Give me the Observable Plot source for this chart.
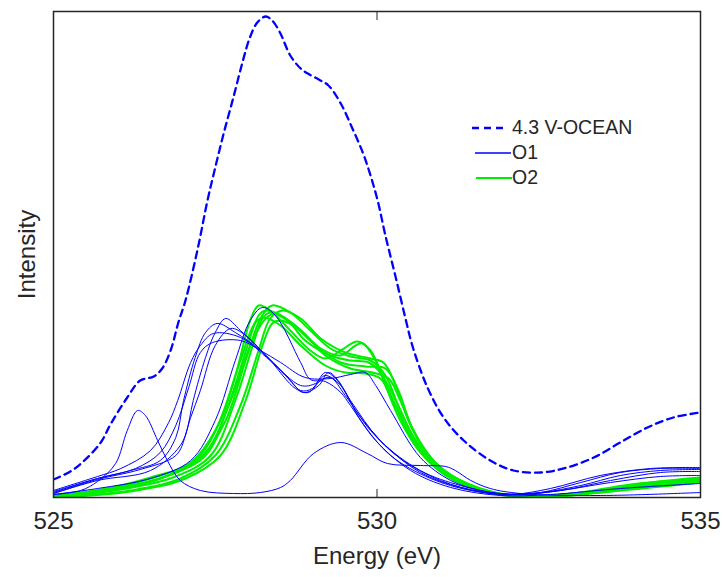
<!DOCTYPE html>
<html>
<head>
<meta charset="utf-8">
<script src="https://cdn.jsdelivr.net/npm/d3@7"></script>
<script src="https://cdn.jsdelivr.net/npm/@observablehq/plot@0.6"></script>
<style>
  html, body { margin: 0; padding: 0; background: #fff; }
  #wrap { position: relative; width: 724px; height: 577px; font-family: "Liberation Sans", Arial, Helvetica, sans-serif; color: #262626; }
  #legend { position: absolute; left: 470px; top: 115px; font-size: 19.5px; }
  #legend .row { display: flex; align-items: center; height: 25px; }
  #legend svg { display: block; }
</style>
</head>
<body>
<div id="wrap"></div>
<script>
// ---- data (energy in eV, intensity in arbitrary units) ----
const xTicks = [525, 530, 535];
const seriesNames = ["4.3 V-OCEAN", "O1", "O2"];

const oceanCurve = [[525.00,18],[525.26,26],[525.46,36],[525.73,55],[525.88,73],[526.14,100],[526.34,117],[526.55,121],[526.68,129],[526.81,147],[526.93,175],[527.04,197],[527.23,249],[527.38,297],[527.50,330],[527.63,364],[527.78,400],[527.92,435],[528.03,459],[528.15,475],[528.28,481],[528.38,477],[528.50,465],[528.66,442],[528.82,429],[528.93,424],[529.10,418],[529.25,412],[529.44,394],[529.62,369],[529.78,345],[529.90,322],[530.01,297],[530.13,262],[530.29,220],[530.44,179],[530.56,149],[530.78,110],[531.03,80],[531.34,57],[531.75,37],[532.11,27],[532.53,25],[532.94,30],[533.35,40],[533.76,55],[534.18,70],[534.58,80],[535.00,85]];

const o1Curve1 = [[525.00,3],[525.42,7],[525.68,16],[525.96,34],[526.14,67],[526.30,87],[526.42,82],[526.61,57],[526.76,37],[526.96,17],[527.27,7],[527.78,4],[528.20,5],[528.51,10],[528.66,17],[529.02,44],[529.44,55],[529.85,44],[530.16,34],[530.67,32],[531.06,31],[531.21,27],[531.45,17],[531.75,9],[532.22,4],[533.45,2],[535.00,5]];
const o1Curve2 = [[525.00,5],[525.68,19],[526.19,27],[526.65,37],[526.89,60],[527.01,97],[527.19,140],[527.35,165],[527.53,174],[527.81,165],[528.20,147],[528.59,122],[528.82,107],[529.00,109],[529.20,125],[529.36,119],[529.59,97],[530.05,57],[530.67,27],[531.29,12],[531.91,4],[532.53,5],[533.15,12],[533.76,22],[534.38,27],[535.00,28]];
const o1Curve3 = [[525.00,4],[525.68,18],[526.34,28],[526.89,42],[527.04,62],[527.16,97],[527.35,140],[527.50,165],[527.66,179],[527.89,167],[528.28,142],[528.66,117],[528.86,105],[529.10,112],[529.25,125],[529.40,117],[529.67,87],[530.13,52],[530.67,25],[531.29,10],[531.91,3],[532.53,5],[533.15,15],[533.76,25],[534.38,29],[535.00,29]];
const o1Curve4 = [[525.00,7],[525.68,21],[526.04,29],[526.50,47],[526.78,75],[526.92,97],[527.12,135],[527.27,152],[527.47,164],[527.89,160],[528.35,137],[528.82,112],[529.05,114],[529.20,122],[529.44,112],[529.75,77],[530.21,42],[530.83,19],[531.45,7],[532.06,3],[532.68,9],[533.45,22],[534.23,29],[535.00,30]];
const o1Curve5 = [[525.00,6],[525.68,19],[526.27,29],[526.65,45],[526.89,72],[527.09,110],[527.27,145],[527.46,155],[527.89,157],[528.20,147],[528.51,135],[528.89,120],[529.28,119],[529.59,123],[529.82,125],[529.98,112],[530.21,87],[530.67,40],[531.14,17],[531.60,7],[532.06,3],[532.84,7],[533.61,17],[534.38,25],[535.00,26]];
const o1Curve6 = [[525.00,4],[525.68,17],[526.50,27],[526.96,52],[527.12,80],[527.27,107],[527.50,152],[527.74,169],[527.97,162],[528.35,137],[528.74,109],[528.94,105],[529.13,117],[529.28,120],[529.51,102],[529.90,67],[530.36,39],[530.98,17],[531.60,6],[532.22,3],[532.84,7],[533.61,15],[534.38,21],[535.00,22]];
const o1Curve7 = [[525.00,3],[525.68,9],[526.50,19],[527.12,37],[527.50,77],[527.81,137],[528.04,177],[528.23,190],[528.43,182],[528.82,135],[528.97,118],[529.20,116],[529.44,105],[529.59,92],[529.98,57],[530.52,27],[531.14,10],[531.91,2],[532.68,3],[533.76,9],[535.00,14]];

const o2Curve1 = [[525.00,1],[525.73,7],[526.50,19],[527.12,35],[527.50,67],[527.81,122],[528.04,177],[528.17,192],[528.35,187],[528.66,167],[528.97,147],[529.20,139],[529.44,147],[529.70,156],[529.90,147],[530.13,112],[530.36,77],[530.67,45],[531.14,19],[531.75,5],[532.37,1],[533.15,5],[533.92,13],[535.00,19]];
const o2Curve2 = [[525.00,0],[525.88,7],[526.65,19],[527.27,39],[527.66,77],[527.97,137],[528.20,179],[528.38,192],[528.66,185],[528.97,167],[529.28,149],[529.59,141],[529.90,137],[530.13,122],[530.36,87],[530.67,49],[531.14,21],[531.75,5],[532.37,0],[533.30,5],[534.07,13],[535.00,18]];
const o2Curve3 = [[525.00,1],[526.04,9],[526.81,23],[527.35,45],[527.74,97],[528.04,152],[528.28,179],[528.43,184],[528.74,172],[529.13,149],[529.44,142],[529.67,152],[529.78,154],[529.98,137],[530.21,102],[530.52,62],[530.98,27],[531.60,7],[532.37,1],[533.30,6],[534.23,15],[535.00,20]];
const o2Curve4 = [[525.00,2],[525.73,8],[526.50,20],[527.19,37],[527.58,77],[527.89,137],[528.12,175],[528.25,180],[528.51,172],[528.82,152],[529.20,132],[529.51,125],[529.82,124],[530.05,119],[530.29,92],[530.60,52],[531.06,22],[531.75,5],[532.37,1],[533.45,7],[535.00,17]];
const o2Curve5 = [[525.00,0],[526.19,7],[526.96,19],[527.50,42],[527.89,92],[528.17,147],[528.35,179],[528.54,187],[528.82,179],[529.13,159],[529.51,145],[529.90,139],[530.10,135],[530.29,112],[530.52,72],[530.90,32],[531.45,11],[532.22,1],[533.30,4],[534.23,11],[535.00,16]];
const o2Curve6 = [[525.00,1],[526.04,8],[526.89,21],[527.43,42],[527.81,97],[528.08,152],[528.23,179],[528.35,185],[528.66,175],[529.05,152],[529.44,135],[529.82,131],[530.13,129],[530.33,107],[530.55,69],[530.90,35],[531.45,12],[532.22,1],[533.30,5],[534.23,13],[535.00,19]];
const o2Curve7 = [[525.00,1],[525.88,8],[526.73,21],[527.35,42],[527.70,92],[528.00,152],[528.17,182],[528.28,187],[528.59,179],[528.89,157],[529.28,142],[529.59,137],[529.87,135],[530.05,125],[530.29,97],[530.60,57],[531.06,25],[531.68,7],[532.37,1],[533.45,6],[535.00,18]];
const o2Curve8 = [[525.00,0],[526.19,6],[527.04,19],[527.58,42],[527.97,97],[528.23,152],[528.38,174],[528.51,177],[528.82,167],[529.20,142],[529.59,129],[529.93,125],[530.18,119],[530.36,97],[530.60,62],[530.98,30],[531.60,9],[532.37,0],[533.45,5],[535.00,15]];

// ---- build tables ----
const toRows = (curve, series, id) => curve.map(([energy, intensity]) => ({energy, intensity, series, id}));
const oceanRows = toRows(oceanCurve, seriesNames[0], "ocean");
const o1Rows = [o1Curve1, o1Curve2, o1Curve3, o1Curve4, o1Curve5, o1Curve6, o1Curve7].flatMap((c, i) => toRows(c, seriesNames[1], "o1-" + i));
const o2Rows = [o2Curve1, o2Curve2, o2Curve3, o2Curve4, o2Curve5, o2Curve6, o2Curve7, o2Curve8].flatMap((c, i) => toRows(c, seriesNames[2], "o2-" + i));

const BLUE = "#0000ff", GREEN = "#00ee00", INK = "#262626";

const chart = Plot.plot({
  width: 724,
  height: 577,
  marginLeft: 53,
  marginRight: 24,
  marginTop: 11,
  marginBottom: 80,
  style: {fontFamily: '"Liberation Sans", Arial, Helvetica, sans-serif', background: "#fff", color: INK},
  x: {domain: [525, 535]},
  y: {domain: [0, 486]},
  marks: [
    Plot.line(o2Rows, {x: "energy", y: "intensity", z: "id", stroke: GREEN, strokeWidth: 2, curve: "catmull-rom", clip: true}),
    Plot.line(o1Rows, {x: "energy", y: "intensity", z: "id", stroke: BLUE, strokeWidth: 1, curve: "catmull-rom", clip: true}),
    Plot.line(oceanRows, {x: "energy", y: "intensity", stroke: BLUE, strokeWidth: 2.3, strokeDasharray: "7,5", curve: "catmull-rom", clip: true}),
    Plot.axisX(xTicks, {anchor: "bottom", tickSize: -8, tickPadding: 22, fontSize: 24, stroke: INK, fill: INK, label: "Energy (eV)", labelAnchor: "center", labelArrow: "none", labelOffset: 66}),
    Plot.axisX(xTicks, {anchor: "top", tickSize: -8, tickFormat: () => "", stroke: INK, label: null}),
    Plot.axisY([], {anchor: "left", label: "Intensity", labelAnchor: "center", labelArrow: "none", labelOffset: 36, fontSize: 24, fill: INK}),
    Plot.frame({stroke: INK, strokeWidth: 1.5})
  ]
});

const wrap = document.getElementById("wrap");
wrap.appendChild(chart);

// ---- legend ----
const legend = document.createElement("div");
legend.id = "legend";
const legendItems = [
  {name: seriesNames[0], color: BLUE, width: 2.3, dash: "7,5", x1: 2, x2: 34},
  {name: seriesNames[1], color: BLUE, width: 1.5, dash: null, x1: 5, x2: 41},
  {name: seriesNames[2], color: GREEN, width: 2, dash: null, x1: 6, x2: 42}
];
for (const it of legendItems) {
  const row = document.createElement("div");
  row.className = "row";
  const svg = document.createElementNS("http://www.w3.org/2000/svg", "svg");
  svg.setAttribute("width", 42);
  svg.setAttribute("height", 12);
  const ln = document.createElementNS("http://www.w3.org/2000/svg", "line");
  ln.setAttribute("x1", it.x1); ln.setAttribute("x2", it.x2);
  ln.setAttribute("y1", 6); ln.setAttribute("y2", 6);
  ln.setAttribute("stroke", it.color);
  ln.setAttribute("stroke-width", it.width);
  if (it.dash) ln.setAttribute("stroke-dasharray", it.dash);
  svg.appendChild(ln);
  const span = document.createElement("span");
  span.textContent = it.name;
  row.appendChild(svg);
  row.appendChild(span);
  legend.appendChild(row);
}
wrap.appendChild(legend);
</script>
</body>
</html>
